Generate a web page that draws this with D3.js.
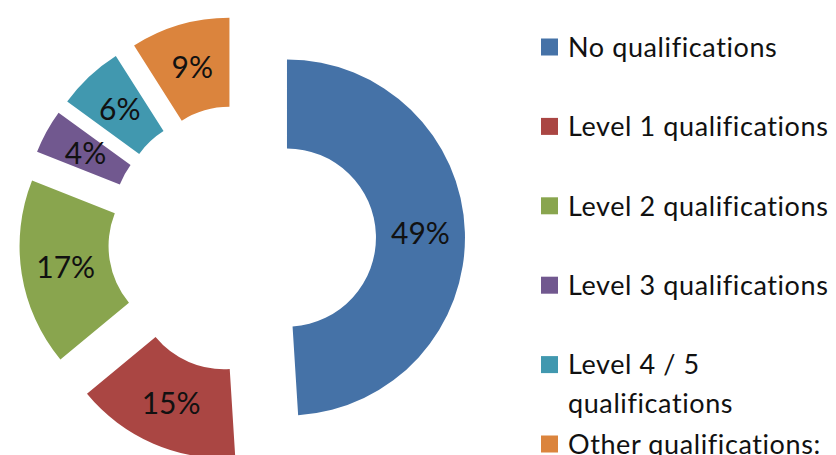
<!DOCTYPE html>
<html>
<head>
<meta charset="utf-8">
<script src="https://cdn.jsdelivr.net/npm/d3@7"></script>
<style>
html, body { margin: 0; padding: 0; background: #fff; overflow: hidden; }
svg { display: block; }
text { font-variant-ligatures: none; font-feature-settings: "liga" 0, "clig" 0; }
</style>
</head>
<body>
<svg id="chart" width="836" height="455"></svg>
<script>
const categories = ["No qualifications", "Level 1 qualifications", "Level 2 qualifications", "Level 3 qualifications", "Level 4 / 5 qualifications", "Other qualifications:"];
const legendLines = [["No qualifications"], ["Level 1 qualifications"], ["Level 2 qualifications"], ["Level 3 qualifications"], ["Level 4 / 5", "qualifications"], ["Other qualifications:"]];
const values = [49, 15, 17, 4, 6, 9];
const colors = ["#4572A7", "#AA4643", "#89A54E", "#71588F", "#4198AF", "#DB843D"];

const svg = d3.select("#chart");
const cx = 242, cy = 239, outerR = 178, innerR = 89, explode = 45;

const pie = d3.pie().sort(null).value(d => d)(values);
const arc = d3.arc().innerRadius(innerR).outerRadius(outerR);
const color = d3.scaleOrdinal().domain(categories).range(colors);

const g = svg.append("g").attr("transform", `translate(${cx},${cy})`);
const slices = g.selectAll("g.slice").data(pie).enter().append("g")
  .attr("class", "slice")
  .attr("transform", d => {
    const a = (d.startAngle + d.endAngle) / 2;
    return `translate(${explode * Math.sin(a)},${-explode * Math.cos(a)})`;
  });
slices.append("path")
  .attr("d", arc)
  .attr("fill", (d, i) => color(categories[i]));
slices.append("text")
  .attr("transform", d => `translate(${arc.centroid(d)})`)
  .attr("text-anchor", "middle")
  .attr("dy", "0.36em")
  .attr("font-family", "Lato, sans-serif")
  .attr("font-size", 30)
  .attr("fill", "#111")
  .text(d => d.value + "%");

const y = d3.scaleLinear().domain([0, 5]).range([47, 444]);
const leg = svg.append("g");
legendLines.forEach((lines, i) => {
  const row = leg.append("g").attr("transform", `translate(541,${y(i)})`);
  row.append("rect").attr("x", 0).attr("y", -8.5).attr("width", 17).attr("height", 17)
    .attr("fill", colors[i]);
  lines.forEach((t, j) => {
    row.append("text")
      .attr("x", 27).attr("y", j * 39)
      .attr("dy", "0.36em")
      .attr("font-family", "Lato, sans-serif")
      .attr("font-size", 27)
      .attr("letter-spacing", 0.6)
      .attr("fill", "#111")
      .text(t);
  });
});
</script>
</body>
</html>
